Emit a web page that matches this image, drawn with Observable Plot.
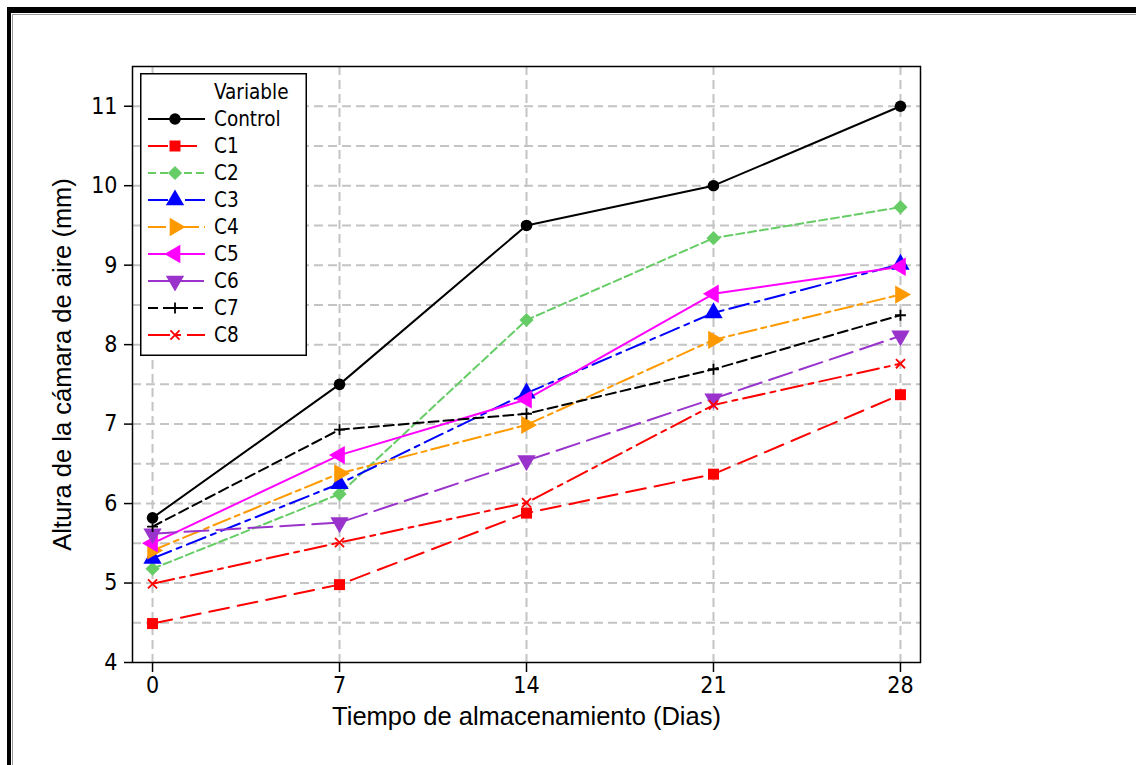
<!DOCTYPE html>
<html><head><meta charset="utf-8">
<script src="https://cdn.jsdelivr.net/npm/d3@7"></script>
<script src="https://cdn.jsdelivr.net/npm/@observablehq/plot@0.6"></script>
<style>
body{margin:0;background:#fff;}
#wrap{position:relative;width:1136px;height:765px;overflow:hidden;background:#fff;}
#border{position:absolute;left:7px;top:7px;width:1300px;height:900px;border-left:4px solid #000;border-top:6px solid #000;}
#border2{position:absolute;left:12px;top:14px;width:1300px;height:900px;border-left:1px solid #9a9a9a;border-top:1px solid #9a9a9a;}
#chart{position:absolute;left:0;top:0;}
#legend{position:absolute;left:140px;top:73px;}
</style></head><body>
<div id="wrap"><div id="border"></div><div id="border2"></div><div id="chart"></div><svg id="legend" width="167" height="283"></svg></div>
<script>
// ---- data ----
const days = [0, 7, 14, 21, 28];
const seriesNames = ["Control", "C1", "C2", "C3", "C4", "C5", "C6", "C7", "C8"];
const control = [5.82, 7.50, 9.50, 10.00, 11.00];
const c1 = [4.49, 4.98, 5.88, 6.37, 7.37];
const c2 = [5.18, 6.12, 8.31, 9.34, 9.73];
const c3 = [5.31, 6.25, 7.39, 8.40, 9.01];
const c4 = [5.41, 6.38, 6.99, 8.06, 8.63];
const c5 = [5.50, 6.61, 7.31, 8.64, 8.98];
const c6 = [5.62, 5.76, 6.54, 7.32, 8.11];
const c7 = [5.71, 6.93, 7.13, 7.69, 8.37];
const c8 = [4.99, 5.51, 6.01, 7.24, 7.76];
const seriesValues = [control, c1, c2, c3, c4, c5, c6, c7, c8];
const yTicks = [4, 5, 6, 7, 8, 9, 10, 11];
const yGrid = [4.5, 5, 5.5, 6, 6.5, 7, 7.5, 8, 8.5, 9, 9.5, 10, 10.5, 11];
const xTitle = "Tiempo de almacenamiento (Dias)";
const yTitle = "Altura de la cámara de aire (mm)";
const legendTitle = "Variable";

// ---- styles ----
const colors = ["#000000", "#ff0000", "#66cc66", "#0000ff", "#ff9900", "#ff00ff", "#9933cc", "#000000", "#ff0000"];
const dashes = [null, "20 9", "8 4", "20 6 5 6", "18 5 5 5", null, "24 8", "10 5", "22 6 5 6"];
const symbols = ["circle", "square", "diamond2", "triangle", "triangle", "triangle", "triangle", "plus", "times"];
const rotations = [0, 0, 0, 0, 90, -90, 180, 0, 0];
const radii = [5.8, 6.2, 6.4, 6.8, 6.8, 6.8, 6.8, 3.6, 4.2];
const strokeOnly = [false, false, false, false, false, false, false, true, true];

const tickFont = "'DejaVu Sans Condensed','DejaVu Sans',sans-serif";
const titleFont = "'Liberation Sans',Arial,sans-serif";

const tables = seriesValues.map((vals, s) => days.map((d, i) => ({series: seriesNames[s], day: d, value: vals[i]})));

const marks = [
  Plot.gridX(days, {stroke: "#c4c4c4", strokeOpacity: 1, strokeWidth: 2, strokeDasharray: "9 5"}),
  Plot.gridY(yGrid, {stroke: "#c4c4c4", strokeOpacity: 1, strokeWidth: 2, strokeDasharray: "9 5"}),
  Plot.frame({stroke: "#000", strokeWidth: 1.5}),
  Plot.axisX(days, {tickSize: 10, tickPadding: 4, label: null, strokeWidth: 1.5, fontSize: 23, fontFamily: tickFont, tickFormat: d3.format("d")}),
  Plot.axisY(yTicks, {tickSize: 8, tickPadding: 7, label: null, strokeWidth: 1.5, fontSize: 23, fontFamily: tickFont, tickFormat: d3.format("d")}),
];
tables.forEach((t, s) => {
  marks.push(Plot.line(t, {x: "day", y: "value", stroke: colors[s], strokeWidth: 2, strokeDasharray: dashes[s] || undefined}));
});
tables.forEach((t, s) => {
  const opts = {x: "day", y: "value", symbol: symbols[s], r: radii[s], rotate: rotations[s]};
  if (strokeOnly[s]) { opts.stroke = colors[s]; opts.fill = "none"; opts.strokeWidth = 1.8; }
  else { opts.fill = colors[s]; opts.stroke = "none"; }
  marks.push(Plot.dot(t, opts));
});
marks.push(Plot.text([xTitle], {text: d => d, frameAnchor: "bottom", dy: 62, textAnchor: "middle", fontFamily: titleFont, fontSize: 25.5, fill: "#000"}));
marks.push(Plot.text([yTitle], {text: d => d, frameAnchor: "left", dx: -70, rotate: -90, textAnchor: "middle", fontFamily: titleFont, fontSize: 25.5, fill: "#000"}));

const chart = Plot.plot({
  width: 1136, height: 765,
  marginLeft: 132, marginRight: 216, marginTop: 66, marginBottom: 103,
  x: {domain: [-0.75, 28.75]},
  y: {domain: [4, 11.5]},
  style: {fontFamily: tickFont, fontSize: "22px", color: "#000", background: "transparent"},
  marks
});
document.getElementById("chart").appendChild(chart);

// ---- legend ----
const lg = d3.select("#legend");
lg.append("rect").attr("x", 0.75).attr("y", 0.75).attr("width", 165.5).attr("height", 281.5)
  .attr("fill", "#fff").attr("stroke", "#000").attr("stroke-width", 1.5);
lg.append("text").attr("x", 74).attr("y", 19).attr("dy", "0.35em")
  .style("font-family", tickFont).style("font-size", "20.5px").text(legendTitle);
const symMap = {circle: d3.symbolCircle, square: d3.symbolSquare, diamond2: d3.symbolDiamond2, triangle: d3.symbolTriangle, plus: d3.symbolPlus, times: d3.symbolTimes};
seriesNames.forEach((name, s) => {
  const y = 46 + 27 * s;
  lg.append("line").attr("x1", 8).attr("x2", 65).attr("y1", y).attr("y2", y)
    .attr("stroke", colors[s]).attr("stroke-width", 2).attr("stroke-dasharray", dashes[s]);
  const p = lg.append("path")
    .attr("d", d3.symbol(symMap[symbols[s]], Math.PI * radii[s] * radii[s])())
    .attr("transform", `translate(35,${y}) rotate(${rotations[s]})`);
  if (strokeOnly[s]) p.attr("fill", "none").attr("stroke", colors[s]).attr("stroke-width", 1.8);
  else p.attr("fill", colors[s]);
  lg.append("text").attr("x", 74).attr("y", y).attr("dy", "0.35em")
    .style("font-family", tickFont).style("font-size", "20.5px").text(name);
});
</script>
</body></html>
